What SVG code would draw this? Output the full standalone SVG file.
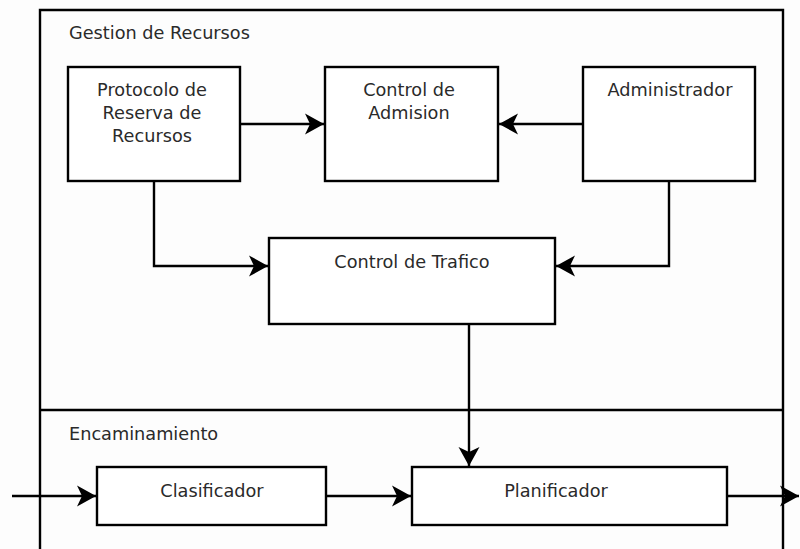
<svg xmlns="http://www.w3.org/2000/svg" width="800" height="549" viewBox="0 0 800 549">
  <style>
    .box { fill: #ffffff; stroke: #000000; stroke-width: 2.4; }
    .frame { fill: none; stroke: #000000; stroke-width: 2.4; }
    .wire { fill: none; stroke: #000000; stroke-width: 2.4; marker-end: url(#head); }
    text { font-family: "DejaVu Sans", "Liberation Sans", sans-serif; font-size: 17.7px; fill: #2a2a2a; }
    .c { text-anchor: middle; }
  </style>
  <defs>
    <marker id="head" markerUnits="userSpaceOnUse" markerWidth="24" markerHeight="26" viewBox="-21 -13 23 26" refX="0" refY="0" orient="auto">
      <path d="M0,0 L-19,-10.5 L-14,0 L-19,10.5 Z" fill="#000000"/>
    </marker>
  </defs>

  <rect x="0" y="0" width="800" height="549" fill="#fdfdfd"/>

  <!-- outer frame and section divider -->
  <g id="frame">
    <path class="frame" d="M40,549 L40,10 L783,10 L783,549"/>
    <line class="frame" x1="40" y1="410" x2="783" y2="410"/>
    <text x="69" y="38.5">Gestion de Recursos</text>
    <text x="69" y="439.5">Encaminamiento</text>
  </g>

  <g id="protocolo">
    <rect class="box" x="68" y="67" width="172" height="114"/>
    <text class="c" x="152" y="95.5">Protocolo de</text>
    <text class="c" x="152" y="118.5">Reserva de</text>
    <text class="c" x="152" y="141.5">Recursos</text>
  </g>

  <g id="admision">
    <rect class="box" x="325" y="67" width="173" height="114"/>
    <text class="c" x="409" y="95.5">Control de</text>
    <text class="c" x="409" y="118.5">Admision</text>
  </g>

  <g id="administrador">
    <rect class="box" x="583" y="67" width="172" height="114"/>
    <text class="c" x="670" y="95.5">Administrador</text>
  </g>

  <g id="trafico">
    <rect class="box" x="269" y="238" width="286" height="86"/>
    <text class="c" x="412" y="267.5">Control de Trafico</text>
  </g>

  <g id="clasificador">
    <rect class="box" x="97" y="467" width="229" height="58"/>
    <text class="c" x="212" y="496.5">Clasificador</text>
  </g>

  <g id="planificador">
    <rect class="box" x="412" y="467" width="315" height="58"/>
    <text class="c" x="556" y="496.5">Planificador</text>
  </g>

  <g id="connectors">
    <line class="wire" x1="240" y1="124" x2="324" y2="124"/>
    <line class="wire" x1="583" y1="124" x2="499" y2="124"/>
    <path class="wire" d="M154,181 L154,266 L268,266"/>
    <path class="wire" d="M669,181 L669,266 L556,266"/>
    <line class="wire" x1="469" y1="324" x2="469" y2="466"/>
    <line class="wire" x1="12" y1="496" x2="96" y2="496"/>
    <line class="wire" x1="326" y1="496" x2="411" y2="496"/>
    <line class="wire" x1="727" y1="496" x2="799" y2="496"/>
  </g>
</svg>
